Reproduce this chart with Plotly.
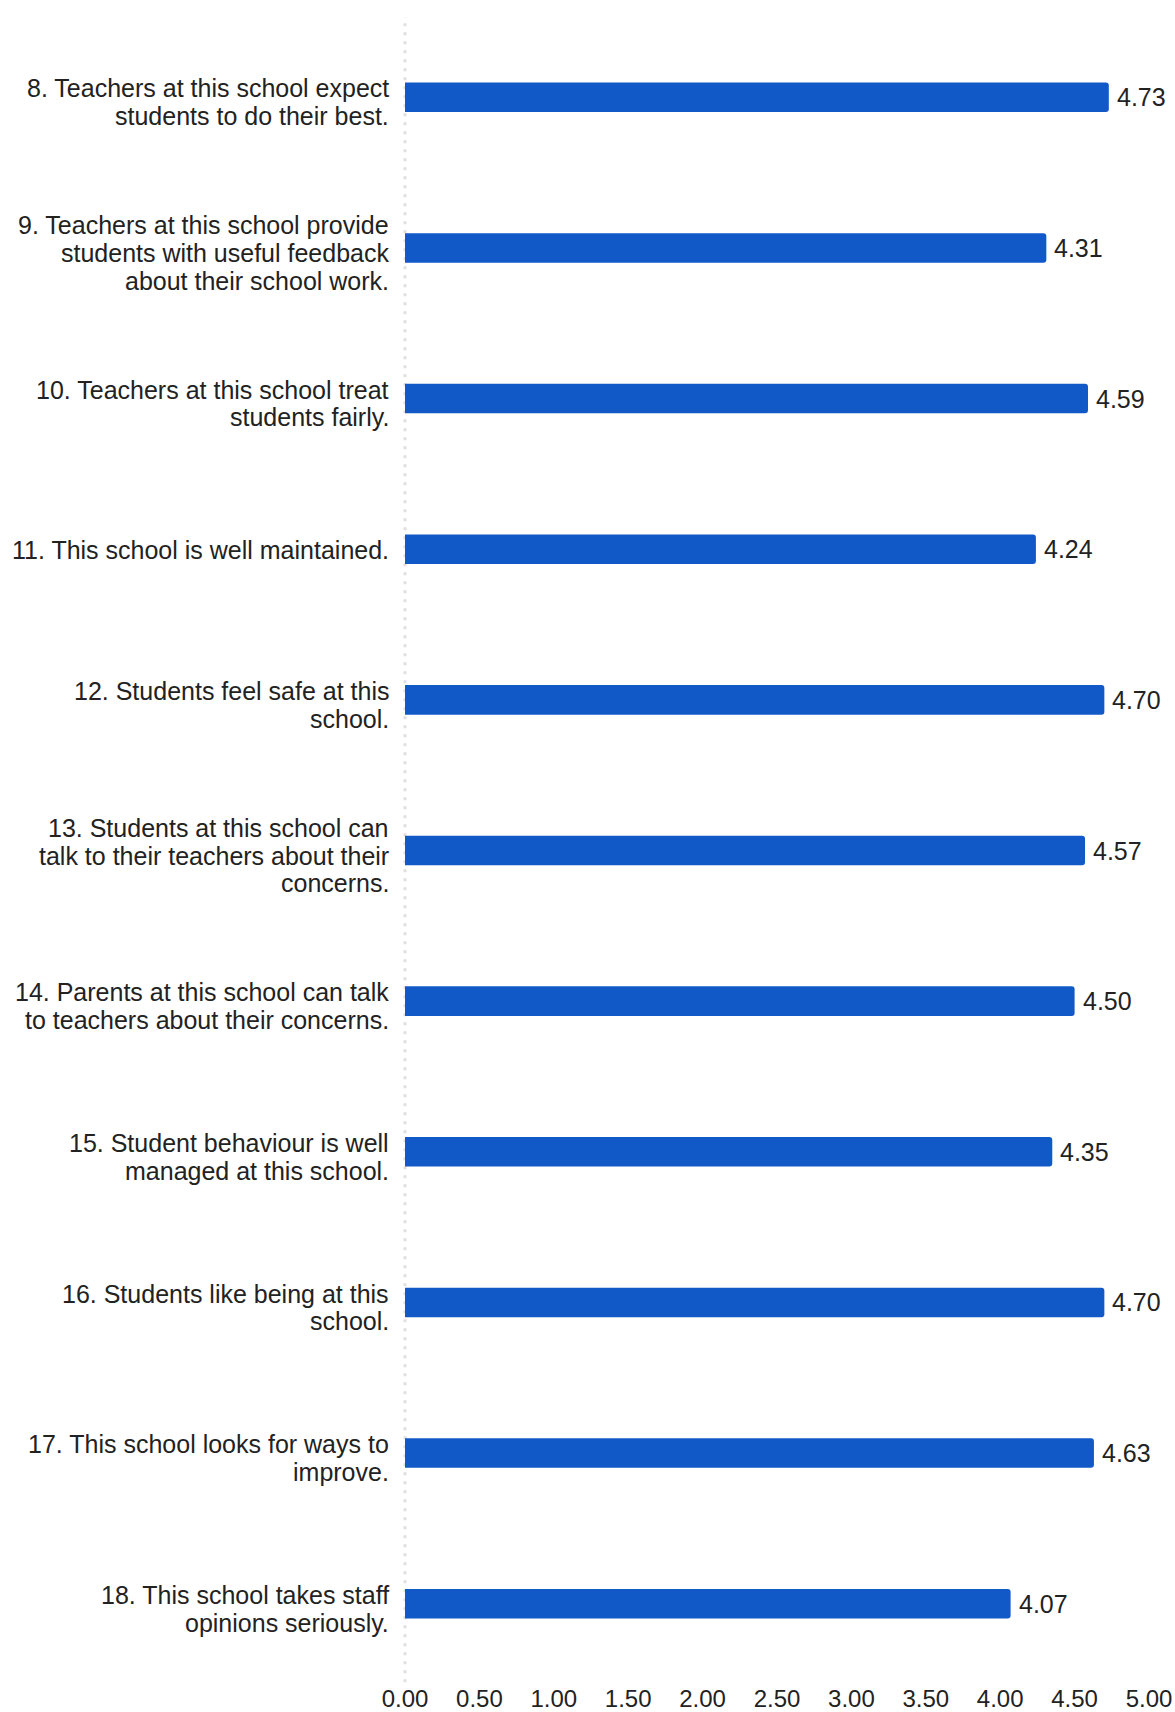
import plotly.graph_objects as go

categories = [
    "8. Teachers at this school expect<br>students to do their best.",
    "9. Teachers at this school provide<br>students with useful feedback<br>about their school work.",
    "10. Teachers at this school treat<br>students fairly.",
    "11. This school is well maintained.",
    "12. Students feel safe at this<br>school.",
    "13. Students at this school can<br>talk to their teachers about their<br>concerns.",
    "14. Parents at this school can talk<br>to teachers about their concerns.",
    "15. Student behaviour is well<br>managed at this school.",
    "16. Students like being at this<br>school.",
    "17. This school looks for ways to<br>improve.",
    "18. This school takes staff<br>opinions seriously.",
]
values = [4.73, 4.31, 4.59, 4.24, 4.70, 4.57, 4.50, 4.35, 4.70, 4.63, 4.07]
tick_vals = [0, 0.5, 1, 1.5, 2, 2.5, 3, 3.5, 4, 4.5, 5]
tick_text = ["0.00", "0.50", "1.00", "1.50", "2.00", "2.50", "3.00", "3.50", "4.00", "4.50", "5.00"]

FONT = "Arial, Liberation Sans, sans-serif"
TXT = "#222222"

fig = go.Figure(go.Bar(
    x=values,
    y=categories,
    orientation="h",
    width=0.196,
    marker=dict(color="#1259C8", cornerradius=3, line=dict(width=0)),
    hoverinfo="x+y",
))

# dotted axis line at x = 0
fig.add_shape(type="line", xref="paper", yref="paper", x0=0, x1=0, y0=-0.002, y1=1.003,
              line=dict(color="#e0e0e0", width=3, dash="3px,6px"), layer="below")

annotations = []
# value labels
for cat, v in zip(categories, values):
    annotations.append(dict(x=v, y=cat, xref="x", yref="y", text=f"{v:.2f}",
                            showarrow=False, xanchor="left", yanchor="middle", xshift=6,
                            font=dict(size=25, color=TXT, family=FONT)))
# category labels, one annotation per line for tight line spacing
LINE_H = 27.8
for cat in categories:
    lines = cat.split("<br>")
    n = len(lines)
    base = -5 if n > 1 else -1
    for i, ln in enumerate(lines):
        ys = ((n - 1) / 2 - i) * LINE_H + base
        annotations.append(dict(x=0, y=cat, xref="paper", yref="y", text=ln,
                                showarrow=False, xanchor="right", yanchor="middle",
                                xshift=-14, yshift=ys,
                                font=dict(size=25, color=TXT, family=FONT)))

fig.update_layout(
    width=1175, height=1712,
    margin=dict(l=405, r=26, t=22, b=33, autoexpand=False),
    paper_bgcolor="white", plot_bgcolor="white",
    font=dict(family=FONT, size=25, color=TXT),
    showlegend=False,
    annotations=annotations,
    xaxis=dict(range=[0, 5], tickvals=tick_vals, ticktext=tick_text, showgrid=False,
               zeroline=False, showline=False, ticks="", automargin=False,
               ticklabeloverflow="allow",
               tickfont=dict(size=24, color=TXT, family=FONT), ticklabelstandoff=3),
    yaxis=dict(categoryorder="array", categoryarray=categories, autorange="reversed",
               showgrid=False, zeroline=False, showline=False, ticks="", automargin=False,
               showticklabels=False),
)

fig.write_html("out.html",
               config={"displayModeBar": False},
               post_script="document.body.style.margin='0';document.body.style.overflow='hidden';")
